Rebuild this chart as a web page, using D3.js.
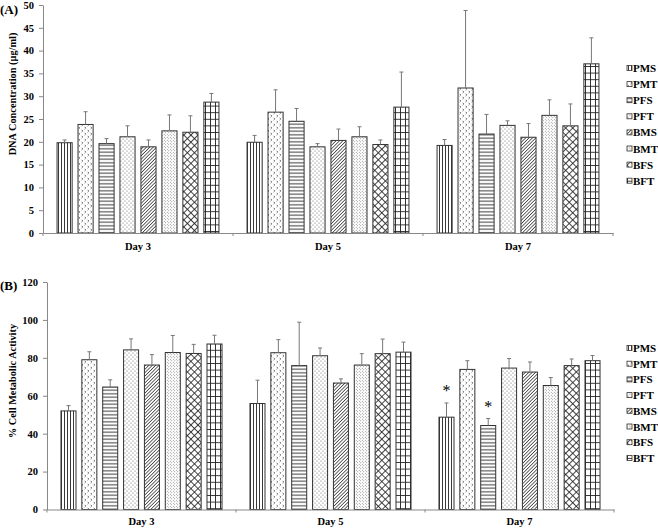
<!DOCTYPE html>
<html><head><meta charset="utf-8">
<script src="https://cdn.jsdelivr.net/npm/d3@7"></script>
<style>
html,body{margin:0;padding:0;background:#fff;}
svg{display:block;}
text{font-family:"Liberation Serif","Times New Roman",serif;font-weight:bold;fill:#000;}
</style></head>
<body>
<script>
// ---------- data ----------
const days = ["Day 3", "Day 5", "Day 7"];
const groups = ["PMS", "PMT", "PFS", "PFT", "BMS", "BMT", "BFS", "BFT"];

// (A) DNA concentration (µg/ml), values per group in order of `groups`
const dnaDay3 = [19.8, 23.8, 19.6, 21.1, 18.9, 22.4, 22.1, 28.7];
const dnaDay5 = [19.9, 26.5, 24.5, 18.9, 20.3, 21.1, 19.4, 27.6];
const dnaDay7 = [19.2, 31.8, 21.7, 23.6, 21.0, 25.8, 23.5, 37.1];
const dnaErrDay3 = [0.6, 2.8, 1.1, 2.4, 1.5, 3.5, 3.6, 1.9];
const dnaErrDay5 = [1.5, 4.9, 2.8, 0.7, 2.5, 2.2, 1.0, 7.7];
const dnaErrDay7 = [1.3, 17.0, 4.3, 1.0, 3.0, 3.4, 4.8, 5.7];
const dnaTicks = [0, 5, 10, 15, 20, 25, 30, 35, 40, 45, 50];

// (B) % cell metabolic activity
const actDay3 = [52.0, 79.0, 64.6, 84.2, 76.2, 82.8, 82.3, 87.3];
const actDay5 = [55.9, 82.7, 75.9, 81.1, 66.7, 76.2, 82.2, 83.0];
const actDay7 = [48.7, 73.9, 44.3, 74.6, 72.5, 65.4, 75.9, 78.5];
const actErrDay3 = [2.8, 4.2, 3.8, 5.8, 5.5, 9.0, 4.8, 4.6];
const actErrDay5 = [12.3, 6.9, 22.9, 4.1, 2.2, 6.0, 7.7, 5.3];
const actErrDay7 = [7.5, 4.6, 3.7, 5.0, 5.3, 4.2, 3.5, 2.7];
const actTicks = [0, 20, 40, 60, 80, 100, 120];
const actSignificant = [["Day 7", "PMS"], ["Day 7", "PFS"]];

// ---------- build tables ----------
function table(means, errs) {
  const rows = [];
  days.forEach((d, i) => groups.forEach((g, j) => rows.push({day: d, group: g, value: means[i][j], err: errs[i][j]})));
  return rows;
}
const dnaRows = table([dnaDay3, dnaDay5, dnaDay7], [dnaErrDay3, dnaErrDay5, dnaErrDay7]);
const actRows = table([actDay3, actDay5, actDay7], [actErrDay3, actErrDay5, actErrDay7]);

const W = 658, H = 528;
const svg = d3.select("body").append("svg").attr("width", W).attr("height", H);
const defs = svg.append("defs");

// ---------- patterns ----------
const ink = "#222";
function pat(id, w, h, draw, transform) {
  const p = defs.append("pattern").attr("id", id).attr("patternUnits", "userSpaceOnUse")
    .attr("width", w).attr("height", h);
  if (transform) p.attr("patternTransform", transform);
  p.append("rect").attr("width", w).attr("height", h).attr("fill", "#fff");
  draw(p);
}
pat("pPMS", 3, 3, p => p.append("line").attr("x1", 1.5).attr("x2", 1.5).attr("y1", 0).attr("y2", 3).attr("stroke", ink).attr("stroke-width", 0.9));
pat("pPMT", 6, 6, p => p.append("path").attr("d", "M0.6,0.8 L1.8,2 L0.6,3.2 M3.6,3.8 L4.8,5 L3.6,6.2 M3.6,-2.2 L4.8,-1 L3.6,0.2").attr("fill", "none").attr("stroke", "#333").attr("stroke-width", 0.7));
pat("pPFS", 3.5, 3.5, p => p.append("line").attr("x1", 0).attr("x2", 3.5).attr("y1", 1.75).attr("y2", 1.75).attr("stroke", ink).attr("stroke-width", 0.9));
pat("pPFT", 4, 4, p => { p.append("circle").attr("cx", 1).attr("cy", 1).attr("r", 0.5).attr("fill", "#444"); p.append("circle").attr("cx", 3).attr("cy", 3).attr("r", 0.5).attr("fill", "#444"); });
pat("pBMS", 2.4, 2.4, p => p.append("line").attr("x1", 1.2).attr("x2", 1.2).attr("y1", 0).attr("y2", 2.4).attr("stroke", "#444").attr("stroke-width", 0.8), "rotate(45)");
pat("pBMT", 3, 3, p => { p.append("circle").attr("cx", 0.75).attr("cy", 0.75).attr("r", 0.45).attr("fill", "#444"); p.append("circle").attr("cx", 2.25).attr("cy", 2.25).attr("r", 0.45).attr("fill", "#444"); });
pat("pBFS", 5, 5, p => p.append("path").attr("d", "M0,0.45 H5 M0.45,0 V5").attr("stroke", "#222").attr("stroke-width", 0.9), "rotate(45)");
pat("pBFT", 5, 6.6, p => p.append("path").attr("d", "M0,0.5 H5 M0.5,0 V6.6").attr("stroke", ink).attr("stroke-width", 0.9));

// ---------- panels ----------
const panels = [
  {rows: dnaRows, ticks: dnaTicks, xr: [43, 613], yr: [233, 5], max: 50, title: "DNA Concentration (µg/ml)",
   titleY: 94, letter: "(A)", letterY: 14, legY0: 68, legDy: 16.1, daySig: [], dayPad: 10},
  {rows: actRows, ticks: actTicks, xr: [47, 614], yr: [509.5, 282], max: 120, title: "% Cell Metabolic Activity",
   titleY: 381, letter: "(B)", letterY: 290, legY0: 348, legDy: 15.7, daySig: actSignificant, dayPad: 8}
];

panels.forEach(P => {
  const g = svg.append("g");
  const x0 = d3.scaleBand().domain(days).range(P.xr).paddingInner(0).paddingOuter(0);
  const x1 = d3.scaleBand().domain(groups).range([0, x0.bandwidth()]).paddingInner(0.28).paddingOuter(0.67);
  const y = d3.scaleLinear().domain([0, P.max]).range(P.yr);

  // bars
  g.selectAll("rect.bar").data(P.rows).join("rect").attr("class", "bar")
    .attr("x", d => x0(d.day) + x1(d.group)).attr("width", x1.bandwidth())
    .attr("y", d => y(d.value)).attr("height", d => y(0) - y(d.value))
    .attr("fill", d => `url(#p${d.group})`).attr("stroke", "#333").attr("stroke-width", 1);

  // error bars
  const eb = g.selectAll("g.err").data(P.rows).join("g").attr("class", "err")
    .attr("stroke", "#777").attr("stroke-width", 1);
  eb.append("line").attr("x1", d => x0(d.day) + x1(d.group) + x1.bandwidth() / 2)
    .attr("x2", d => x0(d.day) + x1(d.group) + x1.bandwidth() / 2)
    .attr("y1", d => y(d.value)).attr("y2", d => y(d.value + d.err));
  eb.append("line").attr("x1", d => x0(d.day) + x1(d.group) + x1.bandwidth() / 2 - 2)
    .attr("x2", d => x0(d.day) + x1(d.group) + x1.bandwidth() / 2 + 2)
    .attr("y1", d => y(d.value + d.err)).attr("y2", d => y(d.value + d.err));

  // significance markers
  P.daySig.forEach(([d, gr]) => {
    const r = P.rows.find(v => v.day === d && v.group === gr);
    g.append("text").attr("x", x0(d) + x1(gr) + x1.bandwidth() / 2).attr("y", y(r.value + r.err) - 7)
      .attr("text-anchor", "middle").style("font-weight", "normal").style("font-size", "16px").text("*");
  });

  // y axis
  const ya = g.append("g").attr("transform", `translate(${P.xr[0]},0)`)
    .call(d3.axisLeft(y).tickValues(P.ticks).tickSize(4).tickPadding(5).tickSizeOuter(0));
  ya.select(".domain").attr("stroke", "#888");
  ya.selectAll(".tick line").attr("stroke", "#888");
  ya.selectAll(".tick text").style("font-size", "10.5px").style("font-family", "Liberation Serif, serif").style("font-weight", "bold");

  // x axis
  const xa = g.append("g").attr("transform", `translate(0,${y(0)})`)
    .call(d3.axisBottom(x0).tickSize(0).tickPadding(P.dayPad));
  xa.select(".domain").attr("stroke", "#888");
  xa.selectAll(".tick text").style("font-size", "10.5px").style("font-family", "Liberation Serif, serif").style("font-weight", "bold");
  const bounds = days.map(d => x0(d)).concat([x0(days[days.length - 1]) + x0.bandwidth()]);
  xa.selectAll("line.bound").data(bounds).join("line").attr("class", "bound")
    .attr("x1", d => d).attr("x2", d => d).attr("y1", 0).attr("y2", 3).attr("stroke", "#888");

  // titles
  g.append("text").attr("transform", `translate(16,${P.titleY}) rotate(-90)`).attr("text-anchor", "middle")
    .style("font-size", "10.3px").text(P.title);
  g.append("text").attr("x", 0).attr("y", P.letterY).style("font-size", "13px").text(P.letter);

  // legend
  const lg = g.selectAll("g.leg").data(groups).join("g").attr("class", "leg")
    .attr("transform", (d, i) => `translate(627,${P.legY0 + i * P.legDy})`);
  lg.append("rect").attr("x", 0).attr("y", -2.5).attr("width", 5).attr("height", 5)
    .attr("fill", d => `url(#p${d})`).attr("stroke", "#333").attr("stroke-width", 0.8);
  lg.append("text").attr("x", 6).attr("y", 4).style("font-size", "11px").text(d => d);
});
</script>
</body></html>
